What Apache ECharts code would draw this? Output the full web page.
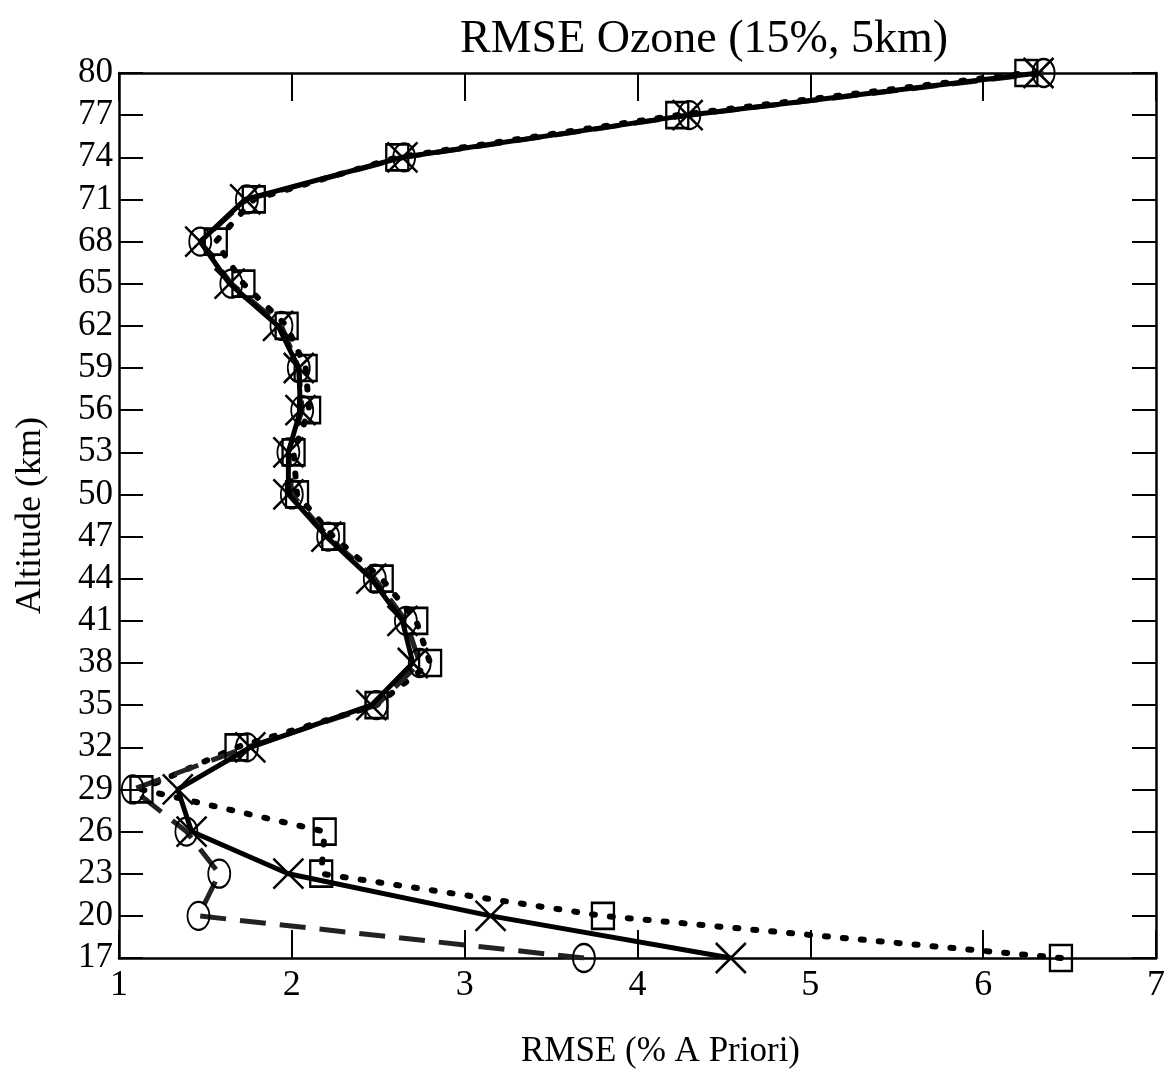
<!DOCTYPE html>
<html>
<head>
<meta charset="utf-8">
<title>RMSE Ozone</title>
<script src="https://cdn.jsdelivr.net/npm/echarts@6/dist/echarts.min.js"></script>
</head>
<body style="margin:0;background:#fff;">
	<div id="main" style="width: 1169px; height: 1076px;"></div>

	<script type="text/javascript">
		// altitude levels (km) and RMSE values
		var altitudes = [17, 20, 23, 26, 29, 32, 35, 38, 41, 44, 47, 50, 53, 56, 59, 62, 65, 68, 71, 74, 77, 80];
		var rmseCross  = [4.54, 3.15, 1.98, 1.42, 1.34, 1.76, 2.46, 2.70, 2.64, 2.46, 2.20, 1.98, 1.98, 2.05, 2.04, 1.92, 1.64, 1.47, 1.73, 2.64, 4.29, 6.32];
		var rmseCircle = [3.69, 1.46, 1.58, 1.39, 1.08, 1.74, 2.49, 2.74, 2.66, 2.48, 2.21, 2.00, 1.98, 2.06, 2.04, 1.94, 1.65, 1.47, 1.74, 2.65, 4.30, 6.35];
		var rmseSquare = [6.45, 3.80, 2.17, 2.19, 1.13, 1.68, 2.49, 2.80, 2.72, 2.52, 2.24, 2.03, 2.01, 2.10, 2.08, 1.97, 1.72, 1.56, 1.78, 2.61, 4.23, 6.25];
		var xTicks = [1, 2, 3, 4, 5, 6, 7];

		var font = 'Liberation Serif';
		var crossPath = 'path://M0,0 L20,20 M20,0 L0,20';

		function pairs(vals) {
		    var out = [];
		    for (var i = 0; i < vals.length; i++) {
		        out.push([vals[i], altitudes[i]]);
		    }
		    return out;
		}

		var myChart = echarts.init(document.getElementById('main'));

		var axisLine = { show: true, lineStyle: { color: '#000', width: 2.5 } };

		option = {
		    backgroundColor: '#fff',
		    animation: false,
		    title: {
		        text: 'RMSE Ozone (15%, 5km)',
		        left: 699,
		        top: 12,
		        textAlign: 'center',
		        textStyle: { fontFamily: font, fontSize: 46, fontWeight: 'normal', color: '#000' }
		    },
		    grid: { left: 119, right: 13, top: 73, bottom: 118 },
		    xAxis: [
		        {
		            type: 'value', min: 1, max: 7, interval: 1,
		            position: 'bottom',
		            name: 'RMSE (% A Priori)',
		            nameLocation: 'middle',
		            nameGap: 76,
		            nameTextStyle: { fontFamily: font, fontSize: 35, color: '#000', padding: [0, 0, 0, 46] },
		            axisLine: axisLine,
		            axisTick: { inside: true, length: 28, lineStyle: { color: '#000', width: 2 } },
		            axisLabel: { fontFamily: font, fontSize: 36, color: '#000', margin: 10,
		                customValues: xTicks },
		            splitLine: { show: false }
		        },
		        {
		            type: 'value', min: 1, max: 7, interval: 1,
		            position: 'top',
		            axisLine: axisLine,
		            axisTick: { inside: true, length: 28, lineStyle: { color: '#000', width: 2 } },
		            axisLabel: { show: false },
		            splitLine: { show: false }
		        }
		    ],
		    yAxis: [
		        {
		            type: 'value', min: 17, max: 80,
		            position: 'left',
		            name: 'Altitude (km)',
		            nameLocation: 'middle',
		            nameRotate: 90,
		            nameGap: 70,
		            nameTextStyle: { fontFamily: font, fontSize: 36, color: '#000' },
		            axisLine: axisLine,
		            axisTick: { inside: true, length: 24, customValues: altitudes, lineStyle: { color: '#000', width: 2 } },
		            axisLabel: { fontFamily: font, fontSize: 35, color: '#000', margin: 6, customValues: altitudes },
		            splitLine: { show: false }
		        },
		        {
		            type: 'value', min: 17, max: 80,
		            position: 'right',
		            axisLine: axisLine,
		            axisTick: { inside: true, length: 24, customValues: altitudes, lineStyle: { color: '#000', width: 2 } },
		            axisLabel: { show: false },
		            splitLine: { show: false }
		        }
		    ],
		    series: [
		        {
		            name: 'square',
		            type: 'line',
		            data: pairs(rmseSquare),
		            symbol: 'rect',
		            symbolSize: [22, 26],
		            itemStyle: { color: 'rgba(0,0,0,0)', borderColor: '#000', borderWidth: 2.5 },
		            lineStyle: { color: '#000', width: 6, type: [3, 15], cap: 'round' }
		        },
		        {
		            name: 'circle',
		            type: 'line',
		            data: pairs(rmseCircle),
		            symbol: 'circle',
		            symbolSize: [22, 28],
		            itemStyle: { color: 'rgba(0,0,0,0)', borderColor: '#000', borderWidth: 2 },
		            lineStyle: { color: '#222', width: 5, type: [26, 14] }
		        },
		        {
		            name: 'cross',
		            type: 'line',
		            data: pairs(rmseCross),
		            symbol: crossPath,
		            symbolSize: 30,
		            itemStyle: { color: 'rgba(0,0,0,0)', borderColor: '#000', borderWidth: 2.5 },
		            lineStyle: { color: '#000', width: 5 }
		        }
		    ]
		};

		myChart.setOption(option);
	</script>
</body>
</html>
